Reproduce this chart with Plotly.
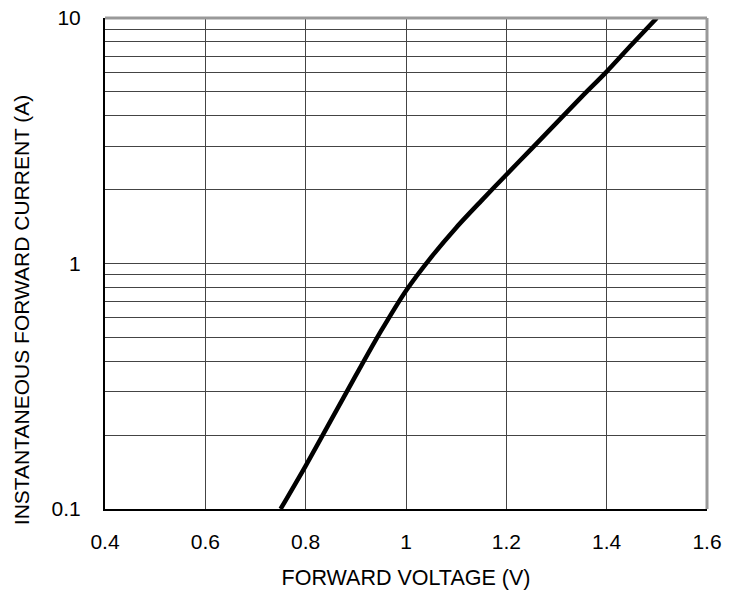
import plotly.graph_objects as go

voltage = [0.75, 0.80, 0.85, 0.90, 0.95, 1.00, 1.05, 1.10, 1.15, 1.20, 1.25, 1.30, 1.35, 1.40, 1.45, 1.50]
current = [0.1, 0.15, 0.229, 0.35, 0.53, 0.775, 1.06, 1.40, 1.80, 2.30, 2.93, 3.74, 4.77, 6.05, 7.80, 10]

x_ticks = [0.4, 0.6, 0.8, 1.0, 1.2, 1.4, 1.6]
x_labels = ["0.4", "0.6", "0.8", "1", "1.2", "1.4", "1.6"]
y_ticks = [0.1, 1, 10]
y_labels = ["0.1", "1", "10"]

x_title = "FORWARD VOLTAGE (V)"
y_title = "INSTANTANEOUS FORWARD CURRENT (A)"

font = "Liberation Sans, Arial, sans-serif"

fig = go.Figure()
fig.add_trace(go.Scatter(x=voltage, y=current, mode="lines",
                         line=dict(color="black", width=4.5, shape="spline", smoothing=0.8),
                         showlegend=False, hoverinfo="skip"))

fig.update_layout(
    width=738, height=591,
    margin=dict(l=105, r=31, t=18, b=82),
    paper_bgcolor="white", plot_bgcolor="white",
    font=dict(family=font, size=21, color="black"),
    xaxis=dict(range=[0.4, 1.6], tickvals=x_ticks, ticktext=x_labels,
               showgrid=True, gridcolor="#444", gridwidth=1,
               showline=True, linecolor="black", linewidth=2,
               ticks="", ticklabelstandoff=13, zeroline=False, automargin=False,
               ticklabeloverflow="allow",
               tickfont=dict(size=21),
               title=dict(text=x_title, standoff=18, font=dict(size=21.5))),
    yaxis=dict(type="log", range=[-1, 1], tickvals=y_ticks, ticktext=y_labels,
               showgrid=True, gridcolor="#444", gridwidth=1,
               minor=dict(dtick="D1", showgrid=True, gridcolor="#444", gridwidth=1, ticks=""),
               showline=True, linecolor="black", linewidth=2,
               ticks="", ticklabelstandoff=18, zeroline=False, automargin=False,
               ticklabeloverflow="allow",
               tickfont=dict(size=21)),
)

fig.add_annotation(text=y_title, textangle=-90, xref="paper", yref="paper",
                   x=-0.1395, y=0.405, xanchor="center", yanchor="middle",
                   showarrow=False, font=dict(size=21))

fig.add_shape(type="line", xref="paper", yref="paper", x0=0, x1=1, y0=1, y1=1,
              line=dict(color="#999", width=3))
fig.add_shape(type="line", xref="paper", yref="paper", x0=1, x1=1, y0=0, y1=1,
              line=dict(color="#999", width=3))

fig.write_html("out.html", config={"displayModeBar": False},
               post_script="document.body.style.margin='0px';document.body.style.overflow='hidden';")
